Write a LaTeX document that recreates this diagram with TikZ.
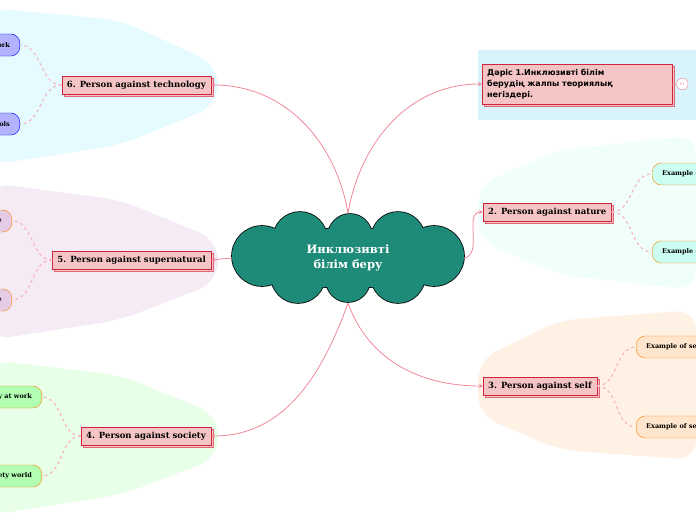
\documentclass[tikz,border=0pt]{standalone}
\usepackage{fontspec}
\setmainfont{DejaVu Serif}
\setsansfont{DejaVu Sans}
\usetikzlibrary{shapes.geometric, positioning, shadows}
\usetikzlibrary{arrows.meta}
\tikzset{>=stealth}
\definecolor{teal1}{HTML}{1E8A78}
\definecolor{boxred}{HTML}{F5C4C4}
\definecolor{edgered}{HTML}{D0243C}
\definecolor{linkpink}{HTML}{F08898}
\tikzset{
  topic/.style={draw=edgered, fill=boxred, font=\bfseries\fontsize{8.5}{11}\selectfont, inner sep=5pt, copy shadow={shadow xshift=2pt, shadow yshift=-2pt, draw=edgered!70, fill=boxred}},
  leaf/.style={draw=#1, rounded corners=9pt, minimum height=22pt, font=\bfseries\fontsize{6.5}{8}\selectfont, inner xsep=10pt},
  link/.style={linkpink, thick, ->},
  sub/.style={linkpink!60, very thick, dashed},
}
\newcommand{\puffs}{(262,256) circle (30pt) (300,239) circle (27pt) (350,236) circle (22pt) (398,239) circle (27pt) (434,256) circle (30pt) (398,276) circle (27pt) (348,280) circle (22pt) (298,276) circle (27pt) (348,258) ellipse (90pt and 30pt)}
\begin{document}
\begin{tikzpicture}[x=1pt,y=-1pt]
\useasboundingbox (0,0) rectangle (696,520);
\clip (0,0) rectangle (696,520);
% background areas
\fill[cyan!15] (478,50) rectangle (696,120);
\fill[green!40!cyan!6, rounded corners=20pt] (478,185) -- (560,150) -- (696,135) -- (696,290) -- (560,275) -- (478,240) -- cycle;
\fill[orange!10, rounded corners=20pt] (478,360) -- (560,320) -- (696,310) -- (696,460) -- (560,450) -- (478,415) -- cycle;
\fill[blue!15!cyan!10, rounded corners=20pt] (-10,8) -- (120,20) -- (218,65) -- (218,105) -- (120,145) -- (-10,165) -- cycle;
\fill[violet!8, rounded corners=20pt] (-10,183) -- (120,200) -- (218,240) -- (218,282) -- (120,320) -- (-10,340) -- cycle;
\fill[green!9, rounded corners=20pt] (-10,360) -- (120,375) -- (218,415) -- (218,458) -- (120,495) -- (-10,515) -- cycle;
% centre
\draw[line width=1.6pt] \puffs;
\fill[teal1] \puffs;
\node[ellipse, minimum width=232pt, minimum height=90pt, text=white, align=center, font=\bfseries\fontsize{11.5}{15}\selectfont] (root) at (348,258) {Инклюзивті\\білім беру};
% topics
\node[topic, align=left, text width=180pt, font=\bfseries\sffamily\fontsize{8}{11}\selectfont, anchor=west] (t1) at (482,84) {Дәріс 1.Инклюзивті білім\\берудің жалпы теориялық\\негіздері.};
\node[topic, anchor=west] (t2) at (483,212) {2. Person against nature};
\node[topic, anchor=west] (t3) at (483,386) {3. Person against self};
\node[topic, anchor=east] (t4) at (211,436) {4. Person against society};
\node[topic, anchor=east] (t5) at (211,260) {5. Person against supernatural};
\node[topic, anchor=east] (t6) at (211,85) {6. Person against technology};
\node[circle, draw=linkpink, fill=white, inner sep=2pt, font=\fontsize{4}{4}\selectfont, text=linkpink, right=4pt of t1] (more) {21};
\draw[linkpink, thick] (t1) -- (more);
% leaves
\node[leaf=orange, fill=green!25!cyan!20, anchor=west] (l21) at (652,174) {Example of nature};
\node[leaf=orange, fill=green!25!cyan!20, anchor=west] (l22) at (652,252) {Example of nature};
\node[leaf=orange, fill=orange!20, anchor=west] (l31) at (636,347) {Example of self};
\node[leaf=orange, fill=orange!20, anchor=west] (l32) at (636,427) {Example of self};
\node[leaf=orange, fill=green!30, anchor=east] (l41) at (42,397) {Society at work};
\node[leaf=orange, fill=green!30, anchor=east] (l42) at (42,476) {Society world};
\node[leaf=orange, fill=violet!20, anchor=east] (l51) at (12,221) {Example};
\node[leaf=orange, fill=violet!20, anchor=east] (l52) at (12,300) {Example};
\node[leaf=blue, fill=blue!30, anchor=east] (l61) at (20,45) {Work};
\node[leaf=blue, fill=blue!30, anchor=east] (l62) at (20,124) {Tools};
% links
\draw[link] (root.north) to[out=80, in=180] (t1.west);
\draw[link] (root.east) to[out=10, in=180] (t2.west);
\draw[link] (root.south) to[out=-70, in=180] (t3.west);
\draw[link] (root.south) to[out=-110, in=0] (t4.east);
\draw[link] (root.west) -- (t5.east);
\draw[link] (root.north) to[out=100, in=0] (t6.east);
\foreach \t/\a/\b in {t2/l21/l22, t3/l31/l32}{
  \draw[sub] (\t.east) to[out=0, in=180] (\a.west);
  \draw[sub] (\t.east) to[out=0, in=180] (\b.west);
}
\foreach \t/\a/\b in {t4/l41/l42, t5/l51/l52, t6/l61/l62}{
  \draw[sub] (\t.west) to[out=180, in=0] (\a.east);
  \draw[sub] (\t.west) to[out=180, in=0] (\b.east);
}
\end{tikzpicture}
\end{document}
